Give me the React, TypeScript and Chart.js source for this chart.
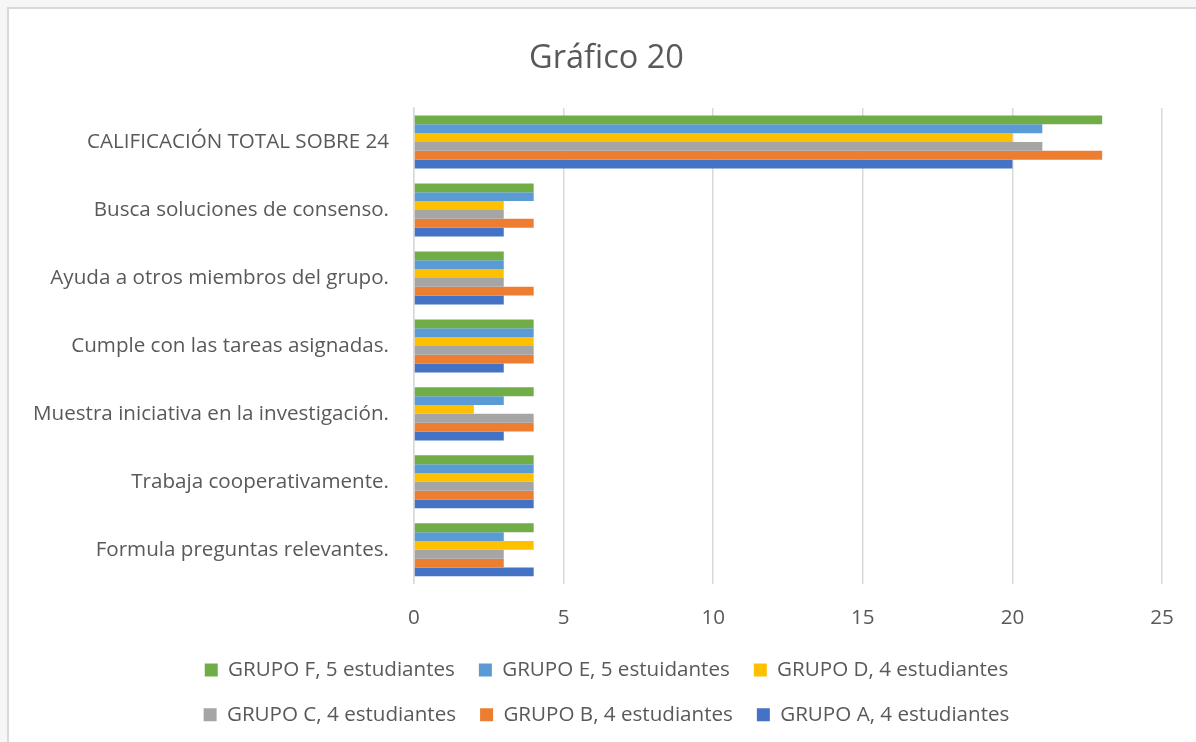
import React, { useEffect, useRef } from "react";
import { Chart, registerables } from "chart.js";

Chart.register(...registerables);

const categories = [
  "CALIFICACIÓN TOTAL SOBRE 24",
  "Busca soluciones de consenso.",
  "Ayuda a otros miembros del grupo.",
  "Cumple con las tareas asignadas.",
  "Muestra iniciativa en la investigación.",
  "Trabaja cooperativamente.",
  "Formula preguntas relevantes.",
];

const grupoF = [23, 4, 3, 4, 4, 4, 4];
const grupoE = [21, 4, 3, 4, 3, 4, 3];
const grupoD = [20, 3, 3, 4, 2, 4, 4];
const grupoC = [21, 3, 3, 4, 4, 4, 3];
const grupoB = [23, 4, 4, 4, 4, 4, 3];
const grupoA = [20, 3, 3, 3, 3, 4, 4];

const seriesNames = [
  "GRUPO F, 5 estudiantes",
  "GRUPO E, 5 estuidantes",
  "GRUPO D, 4 estudiantes",
  "GRUPO C, 4 estudiantes",
  "GRUPO B, 4 estudiantes",
  "GRUPO A, 4 estudiantes",
];
const seriesColors = ["#70AD47", "#5B9BD5", "#FFC000", "#A5A5A5", "#ED7D31", "#4472C4"];

const xMin = 0;
const xMax = 25;
const xStep = 5;

const TEXT = "#595959";
const GRID = "#d9d9d9";
const FONT = "'Open Sans', sans-serif";

const legendWrapPlugin = {
  id: "legendWrap",
  beforeLayout(chart: any) {
    const lg = chart.legend;
    if (lg && !lg.__patched) {
      const orig = lg.update.bind(lg);
      lg.update = (w: number, h: number, m: any) => orig(Math.min(w, 900), h, m);
      lg.__patched = true;
    }
  },
};

export default function App() {
  const ref = useRef<HTMLCanvasElement | null>(null);

  useEffect(() => {
    if (!ref.current) return;
    const values = [grupoF, grupoE, grupoD, grupoC, grupoB, grupoA];
    const chart = new Chart(ref.current, {
      type: "bar",
      data: {
        labels: categories,
        datasets: values.map((v, i) => ({
          label: seriesNames[i],
          data: v,
          backgroundColor: seriesColors[i],
          borderWidth: 0,
          categoryPercentage: 0.78,
          barPercentage: 1,
        })),
      },
      plugins: [legendWrapPlugin],
      options: {
        indexAxis: "y",
        responsive: false,
        animation: false,
        layout: { padding: { left: 8, right: 0, top: 0, bottom: 7 } },
        scales: {
          x: {
            min: xMin,
            max: xMax,
            ticks: {
              stepSize: xStep,
              color: TEXT,
              font: { family: FONT, size: 20.6 },
              padding: 22,
            },
            grid: { color: GRID, lineWidth: 1.5, drawTicks: false },
            border: { display: false },
            afterFit: (s: any) => {
              s.height = 52;
            },
          },
          y: {
            ticks: {
              color: TEXT,
              font: { family: FONT, size: 20.6 },
              padding: 25,
            },
            grid: { display: false, drawTicks: false },
            border: { display: true, color: GRID, width: 1.5 },
            afterFit: (s: any) => {
              s.width = 397;
            },
          },
          yRight: {
            type: "linear",
            position: "right",
            display: true,
            ticks: { display: false },
            grid: { display: false, drawTicks: false },
            border: { display: false },
            afterFit: (s: any) => {
              s.width = 34;
            },
          },
        },
        plugins: {
          title: {
            display: true,
            text: "Gráfico 20",
            color: TEXT,
            font: { family: FONT, size: 32.5, weight: "normal" },
            padding: { top: 30, bottom: 30 },
          },
          legend: {
            position: "bottom",
            labels: {
              color: TEXT,
              font: { family: FONT, size: 20.6 },
              boxWidth: 13,
              boxHeight: 13,
              padding: 24,
            },
          },
          tooltip: { enabled: false },
        },
      },
    });
    return () => chart.destroy();
  }, []);

  return (
    <div style={{ position: "fixed", left: 0, top: 0, width: 1196, height: 742, background: "#f6f6f6", overflow: "hidden" }}>
      <div
        style={{
          position: "absolute",
          left: 7,
          top: 7,
          width: 1200,
          height: 750,
          borderLeft: "2px solid #d9d9d9",
          borderTop: "2px solid #d9d9d9",
          background: "#ffffff",
        }}
      >
        <canvas ref={ref} width={1187} height={733} style={{ display: "block" }} />
      </div>
    </div>
  );
}
